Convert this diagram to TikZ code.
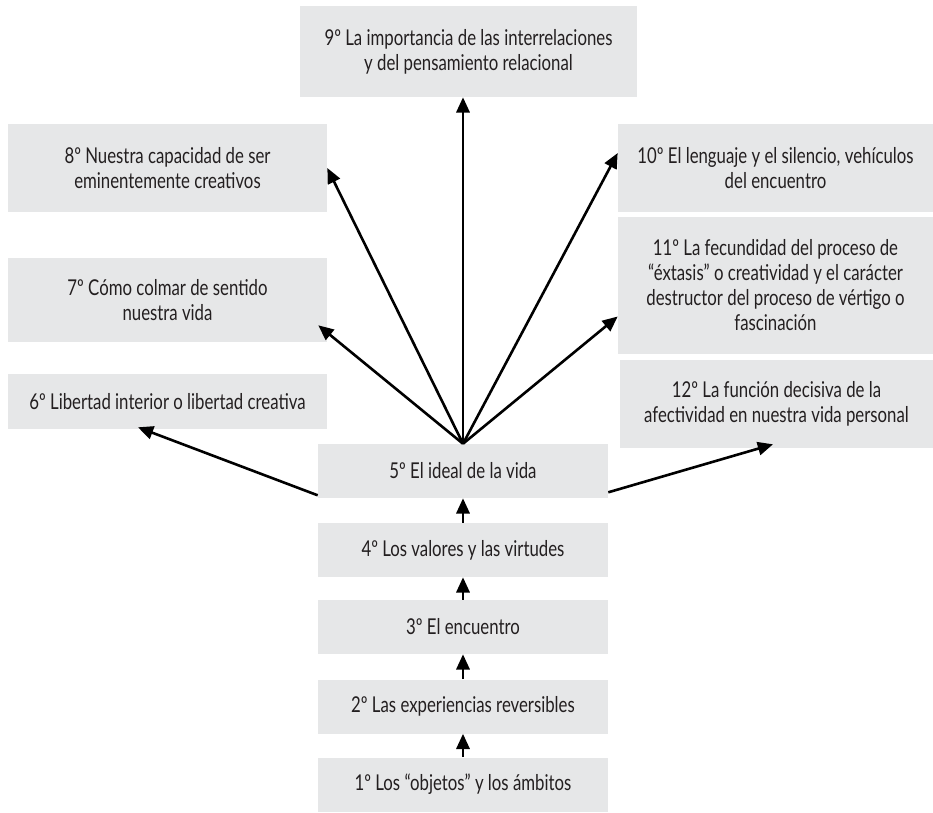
\documentclass[tikz,border=0pt]{standalone}
\usepackage{fontspec}
\setmainfont[FakeStretch=0.77]{Lato}
\usetikzlibrary{arrows.meta,calc}
\definecolor{boxgray}{HTML}{E6E7E8}
\definecolor{txtgray}{HTML}{231F20}

\begin{document}
\begin{tikzpicture}
  [
    x=0.025cm, y=-0.025cm,
    Box/.style={rectangle, fill=boxgray, text=txtgray, align=center, inner sep=0pt,
      font=\fontsize{15.5}{17.8}\selectfont},
    Left/.style={Box, minimum width=7.975cm},
    Right/.style={Box, minimum width=7.875cm},
    Mid/.style={Box, minimum width=7.25cm, minimum height=1.35cm},
    Arrow/.style={-{Triangle[length=0.38cm, width=0.33cm]}, line width=0.065cm, draw=black}
  ]
  \useasboundingbox (0,0) rectangle (933,812);
  % Nodes
  \node[Mid] (b1) at (463, 784.5) {1º Los “objetos” y los ámbitos};
  \node[Mid] (b2) at (463, 706.5) {2º Las experiencias reversibles};
  \node[Mid] (b3) at (463, 627) {3º El encuentro};
  \node[Mid] (b4) at (463, 550) {4º Los valores y las virtudes};
  \node[Mid] (b5) at (463, 471) {5º El ideal de la vida};
  \node[Left, minimum height=1.375cm] (b6) at (167.5, 401.5) {6º Libertad interior o libertad creativa};
  \node[Left, minimum height=2.1cm] (b7) at (167.5, 300) {7º Cómo colmar de sentido\\nuestra vida};
  \node[Left, minimum height=2.2cm] (b8) at (167.5, 168) {8º Nuestra capacidad de ser\\eminentemente creativos};
  \node[Box, minimum width=8.425cm, minimum height=2.275cm] (b9) at (468.5, 51.5)
    {9º La importancia de las interrelaciones\\y del pensamiento relacional};
  \node[Right, minimum height=2.2cm] (b10) at (775.5, 168) {10º El lenguaje y el silencio, vehículos\\del encuentro};
  \node[Right, minimum height=3.425cm] (b11) at (775.5, 285.5)
    {11º La fecundidad del proceso de\\“éxtasis” o creatividad y el carácter\\destructor del proceso de vértigo o\\fascinación};
  \node[Box, minimum width=7.825cm, minimum height=2.2cm] (b12) at (776.5, 404)
    {12º La función decisiva de la\\afectividad en nuestra vida personal};
  % Lines
  \path [Arrow] (b1.north) -- (b2.south);
  \path [Arrow] (b2.north) -- (b3.south);
  \path [Arrow] (b3.north) -- (b4.south);
  \path [Arrow] (b4.north) -- (b5.south);
  \path [Arrow] ($(b5.south west)+(0,-3)$) -- ($(b6.south)+(-29.5,-2)$);
  \path [Arrow] (b5.north) -- ($(b7.south east)+(-9,-17)$);
  \path [Arrow] (b5.north) -- (b8.east);
  \path [Arrow] (b5.north) -- (b5.north |- b9.south);
  \path [Arrow] (b5.north) -- ($(b10.west)+(0,-15)$);
  \path [Arrow] (b5.north) -- ($(b11.west)+(0,31)$);
  \path [Arrow] ($(b5.south east)+(0,-6)$) -- ($(b12.south)+(-3.5,-4)$);
\end{tikzpicture}
\end{document}
